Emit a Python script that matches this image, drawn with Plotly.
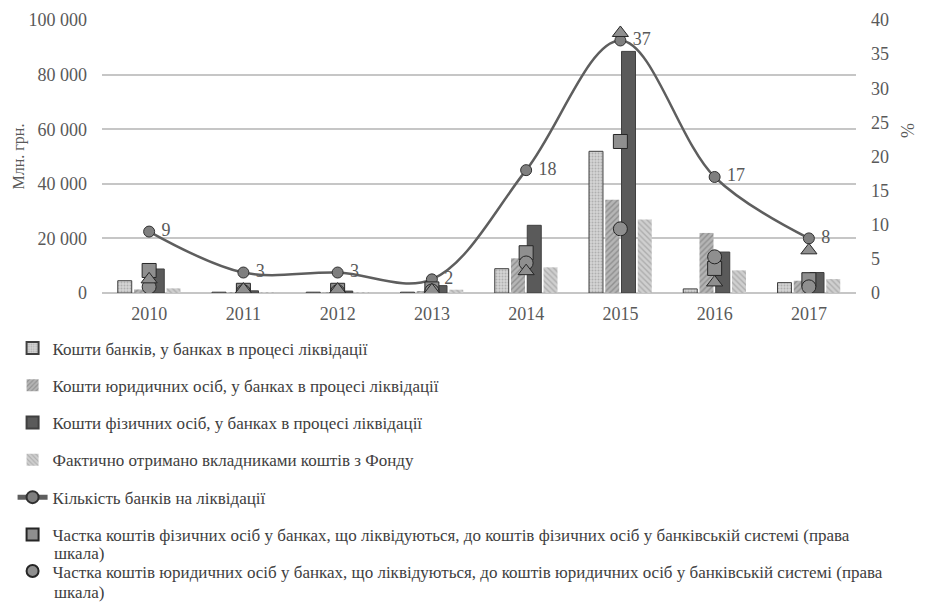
import plotly.graph_objects as go

# Years on the category axis
years = ["2010", "2011", "2012", "2013", "2014", "2015", "2016", "2017"]

# Funds in banks under liquidation, mln UAH (left scale)
banks_funds = [4500, 300, 300, 300, 8900, 51900, 1500, 3800]
legal_funds = [1300, 200, 300, 700, 12700, 34200, 22000, 4500]
individual_funds = [8800, 800, 700, 2700, 24800, 88500, 15000, 7500]
paid_by_fund = [1700, 300, 300, 1200, 9400, 26900, 8300, 5100]

# Number of banks in liquidation (right scale)
banks_count = [9, 3, 3, 2, 18, 37, 17, 8]

# Shares, % (right scale)
share_individuals = [3.3, 0.4, 0.4, 0.6, 5.9, 22.2, 3.6, 1.95]
share_legal = [0.9, 0.2, 0.2, 0.3, 4.4, 9.4, 5.3, 0.9]
share_banks = [2.0, 0.5, 0.5, 0.4, 3.2, 38.1, 1.55, 6.25]

# Text labels
bar_names = [
    "Кошти банків, у банках в процесі ліквідації",
    "Кошти юридичних осіб, у банках в процесі ліквідації",
    "Кошти фізичних осіб, у банках в процесі ліквідації",
    "Фактично отримано вкладниками коштів з Фонду",
]
count_name = "Кількість банків на ліквідації"
share_ind_name = ("Частка коштів фізичних осіб у банках, що ліквідуються, до коштів "
                  "фізичних осіб у банківській системі (права")
share_legal_name = ("Частка коштів юридичних осіб у банках, що ліквідуються, до коштів "
                    "юридичних осіб у банківській системі (права")
name_tail = "шкала)"
share_banks_name = "Частка коштів банків (права шкала)"
y_left_title = "Млн. грн."
y_right_title = "%"

FONT = "'Liberation Serif', 'Times New Roman', 'DejaVu Serif', serif"
TXT = "#595959"
LEG = "#404040"
GRID = "#c6c6c6"
LEG_SIZE = 17

# plot area in pixels
L, R, T, B = 102, 856, 20, 293
PH = B - T
PW = R - L


def py(pix):
    return (B - pix) / PH


def px(pix):
    return (pix - L) / PW


fig = go.Figure()

# Bars (left axis)
fig.add_trace(go.Bar(
    x=years, y=banks_funds, name=bar_names[0], legendgroup="g1",
    marker=dict(color="#d4d4d4", line=dict(color="#404040", width=1),
                pattern=dict(shape=".", fgcolor="#8a8a8a", size=3, solidity=0.35, fillmode="overlay")),
))
fig.add_trace(go.Bar(
    x=years, y=legal_funds, name=bar_names[1], legendgroup="g2",
    marker=dict(color="#b5b5b5", line=dict(width=0),
                pattern=dict(shape="/", fgcolor="#6a6a6a", size=4, solidity=0.35, fillmode="overlay")),
))
fig.add_trace(go.Bar(
    x=years, y=individual_funds, name=bar_names[2], legendgroup="g3",
    marker=dict(color="#5a5a5a", line=dict(color="#404040", width=1)),
))
fig.add_trace(go.Bar(
    x=years, y=paid_by_fund, name=bar_names[3], legendgroup="g4",
    marker=dict(color="#cfcfcf", line=dict(width=0),
                pattern=dict(shape="\\", fgcolor="#8c8c8c", size=4, solidity=0.35, fillmode="overlay")),
))

# Number of banks (smoothed line, right axis)
fig.add_trace(go.Scatter(
    x=years, y=banks_count, name=count_name, legendgroup="g5", yaxis="y2",
    mode="lines+markers+text", text=[" " + str(v) for v in banks_count],
    textposition="middle right", textfont=dict(family=FONT, size=18, color=TXT),
    line=dict(color="#5e5e5e", width=2.5, shape="spline", smoothing=1.0),
    marker=dict(symbol="circle", size=11, color="#7f7f7f", line=dict(color="#303030", width=1)),
))

# Share markers (right axis)
fig.add_trace(go.Scatter(
    x=years, y=share_individuals, name=share_ind_name, legendgroup="g6", yaxis="y2",
    mode="markers",
    marker=dict(symbol="square", size=14, color="#8f8f8f", line=dict(color="#262626", width=1)),
))
fig.add_trace(go.Scatter(
    x=years, y=share_legal, name=share_legal_name, legend="legend2", yaxis="y2",
    mode="markers",
    marker=dict(symbol="circle", size=14, color="#8f8f8f", line=dict(color="#262626", width=1)),
))
fig.add_trace(go.Scatter(
    x=years, y=share_banks, name=share_banks_name, yaxis="y2",
    mode="markers", showlegend=False,
    marker=dict(symbol="triangle-up", size=14, color="#8f8f8f", line=dict(color="#262626", width=1)),
))

legend_common = dict(xanchor="left", yanchor="top", orientation="v",
                     itemwidth=30, itemsizing="constant",
                     font=dict(family=FONT, size=LEG_SIZE, color=LEG),
                     bgcolor="rgba(0,0,0,0)")

fig.update_layout(
    width=932, height=604, autosize=False,
    margin=dict(l=L, r=932 - R, t=T, b=604 - B, autoexpand=False),
    paper_bgcolor="white", plot_bgcolor="white",
    font=dict(family=FONT, size=18, color=TXT),
    separators=". ",
    barmode="group", bargap=0.31, bargroupgap=0.14,
    xaxis=dict(type="category", showgrid=False, zeroline=False, showline=False,
               ticks="", ticklabelstandoff=8, tickfont=dict(family=FONT, size=18, color=TXT)),
    yaxis=dict(range=[0, 100000], dtick=20000, tickformat=",d",
               showgrid=True, gridcolor=GRID, gridwidth=1.5,
               zeroline=True, zerolinecolor=GRID, zerolinewidth=1.5,
               ticks="", ticklabelstandoff=14, tickfont=dict(family=FONT, size=18, color=TXT)),
    yaxis2=dict(range=[0, 40], dtick=5, overlaying="y", side="right",
                showgrid=False, zeroline=False, showline=False,
                ticks="", ticklabelstandoff=14, tickfont=dict(family=FONT, size=18, color=TXT)),
    legend=dict(x=-0.1186, y=-0.1370, traceorder="grouped", tracegroupgap=12.2,
                **legend_common),
    legend2=dict(x=-0.1186, y=py(553.5), **legend_common),
    showlegend=True,
    annotations=[
        dict(text=y_left_title, x=px(18), y=0.5, xref="paper", yref="paper",
             showarrow=False, textangle=-90, font=dict(family=FONT, size=16, color=TXT),
             xanchor="center", yanchor="middle"),
        dict(text=y_right_title, x=px(908), y=py(130), xref="paper", yref="paper",
             showarrow=False, textangle=-90, font=dict(family=FONT, size=18, color=TXT),
             xanchor="center", yanchor="middle"),
        # continuation lines of the two long legend entries
        dict(text=name_tail, x=px(52), y=py(553), xref="paper", yref="paper",
             showarrow=False, font=dict(family=FONT, size=LEG_SIZE, color=LEG),
             xanchor="left", yanchor="middle"),
        dict(text=name_tail, x=px(52), y=py(592.5), xref="paper", yref="paper",
             showarrow=False, font=dict(family=FONT, size=LEG_SIZE, color=LEG),
             xanchor="left", yanchor="middle"),
    ],
)

fig.write_html("out.html")
